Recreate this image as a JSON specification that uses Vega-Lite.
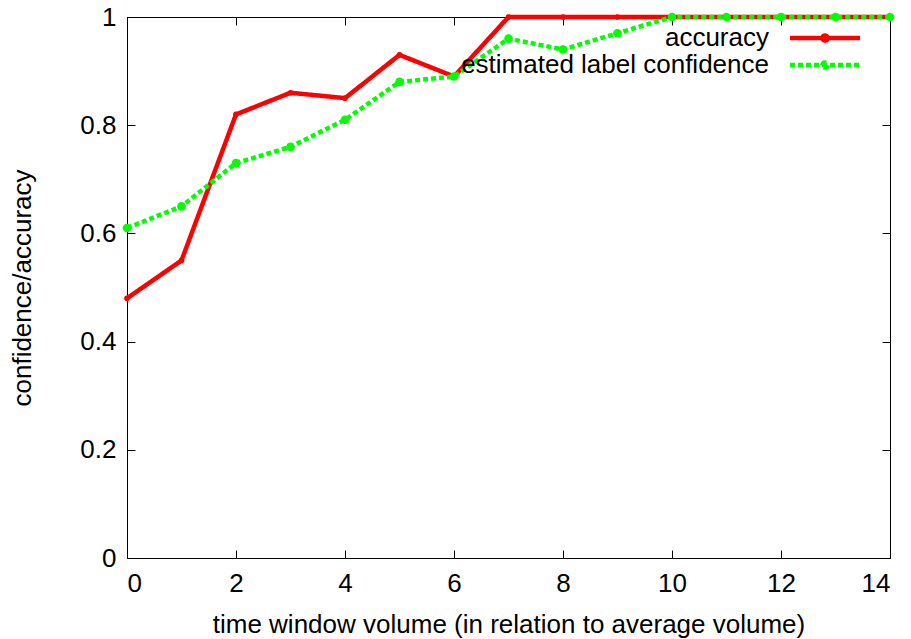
{
  "$schema": "https://vega.github.io/schema/vega-lite/v6.json",
  "width": 763,
  "height": 541,
  "autosize": "none",
  "padding": {"left": 127, "top": 17, "right": 21, "bottom": 81},
  "background": "white",
  "config": {
    "font": "Liberation Sans",
    "view": {"stroke": "black", "strokeWidth": 1},
    "axis": {"grid": false, "domain": false, "tickColor": "black", "tickWidth": 1, "tickSize": -8, "labelColor": "black", "labelFontSize": 26, "labelFont": "Liberation Sans", "titleFont": "Liberation Sans", "titleFontSize": 26, "titleFontWeight": "normal", "titleColor": "black"}
  },
  "data": {
    "values": [
      {"x": 0, "v": 0.48, "s": "accuracy"},
      {"x": 1, "v": 0.55, "s": "accuracy"},
      {"x": 2, "v": 0.82, "s": "accuracy"},
      {"x": 3, "v": 0.86, "s": "accuracy"},
      {"x": 4, "v": 0.85, "s": "accuracy"},
      {"x": 5, "v": 0.93, "s": "accuracy"},
      {"x": 6, "v": 0.89, "s": "accuracy"},
      {"x": 7, "v": 1.0, "s": "accuracy"},
      {"x": 8, "v": 1.0, "s": "accuracy"},
      {"x": 9, "v": 1.0, "s": "accuracy"},
      {"x": 10, "v": 1.0, "s": "accuracy"},
      {"x": 11, "v": 1.0, "s": "accuracy"},
      {"x": 12, "v": 1.0, "s": "accuracy"},
      {"x": 13, "v": 1.0, "s": "accuracy"},
      {"x": 14, "v": 1.0, "s": "accuracy"},
      {"x": 0, "v": 0.61, "s": "estimated label confidence"},
      {"x": 1, "v": 0.65, "s": "estimated label confidence"},
      {"x": 2, "v": 0.73, "s": "estimated label confidence"},
      {"x": 3, "v": 0.76, "s": "estimated label confidence"},
      {"x": 4, "v": 0.81, "s": "estimated label confidence"},
      {"x": 5, "v": 0.88, "s": "estimated label confidence"},
      {"x": 6, "v": 0.89, "s": "estimated label confidence"},
      {"x": 7, "v": 0.96, "s": "estimated label confidence"},
      {"x": 8, "v": 0.94, "s": "estimated label confidence"},
      {"x": 9, "v": 0.97, "s": "estimated label confidence"},
      {"x": 10, "v": 1.0, "s": "estimated label confidence"},
      {"x": 11, "v": 1.0, "s": "estimated label confidence"},
      {"x": 12, "v": 1.0, "s": "estimated label confidence"},
      {"x": 13, "v": 1.0, "s": "estimated label confidence"},
      {"x": 14, "v": 1.0, "s": "estimated label confidence"}
    ]
  },
  "resolve": {"axis": {"x": "independent", "y": "independent"}},
  "layer": [
    {
      "transform": [{"filter": "datum.s === 'accuracy'"}],
      "mark": {"type": "line", "strokeWidth": 4.5, "clip": false},
      "encoding": {
        "x": {"field": "x", "type": "quantitative", "scale": {"domain": [0, 14], "nice": false}, "axis": {"orient": "bottom", "values": [0, 2, 4, 6, 8, 10, 12, 14], "labelPadding": 20, "title": "time window volume (in relation to average volume)", "titlePadding": 15}},
        "y": {"field": "v", "type": "quantitative", "scale": {"domain": [0, 1], "nice": false}, "axis": {"orient": "left", "values": [0, 0.2, 0.4, 0.6, 0.8, 1], "format": "~g", "labelPadding": 19, "title": "confidence/accuracy", "titlePadding": 44}},
        "color": {"field": "s", "type": "nominal", "scale": {"domain": ["accuracy", "estimated label confidence"], "range": ["#ff0000", "#00ff00"]}, "legend": {"orient": "none", "legendX": 684, "legendY": 7, "title": null, "padding": 0, "symbolType": "M-3,0L3,0M-0.22,0A0.22,0.22,0,1,1,0.22,0A0.22,0.22,0,1,1,-0.22,0", "symbolSize": 544, "symbolStrokeWidth": 4.5, "rowPadding": -4, "labelAlign": "right", "labelOffset": -70, "labelFontSize": 26, "labelColor": "black", "labelLimit": 500}},
        "strokeDash": {"field": "s", "type": "nominal", "scale": {"domain": ["accuracy", "estimated label confidence"], "range": [[1, 0], [5, 3]]}, "legend": null}
      }
    },
    {
      "transform": [{"filter": "datum.s === 'estimated label confidence'"}],
      "mark": {"type": "line", "strokeWidth": 4.5, "clip": false},
      "encoding": {
        "x": {"field": "x", "type": "quantitative", "axis": {"orient": "top", "values": [0, 2, 4, 6, 8, 10, 12, 14], "labels": false, "title": null}},
        "y": {"field": "v", "type": "quantitative", "axis": {"orient": "right", "values": [0, 0.2, 0.4, 0.6, 0.8, 1], "labels": false, "title": null}},
        "color": {"field": "s", "type": "nominal"},
        "strokeDash": {"field": "s", "type": "nominal"}
      }
    },
    {
      "transform": [{"filter": "datum.s === 'accuracy'"}],
      "mark": {"type": "point", "filled": true, "opacity": 1, "size": 32, "clip": false},
      "encoding": {
        "x": {"field": "x", "type": "quantitative", "axis": null},
        "y": {"field": "v", "type": "quantitative", "axis": null},
        "color": {"field": "s", "type": "nominal"}
      }
    },
    {
      "transform": [{"filter": "datum.s === 'estimated label confidence'"}],
      "mark": {"type": "point", "filled": true, "opacity": 1, "size": 75, "clip": false},
      "encoding": {
        "x": {"field": "x", "type": "quantitative", "axis": null},
        "y": {"field": "v", "type": "quantitative", "axis": null},
        "color": {"field": "s", "type": "nominal"}
      }
    }
  ]
}
